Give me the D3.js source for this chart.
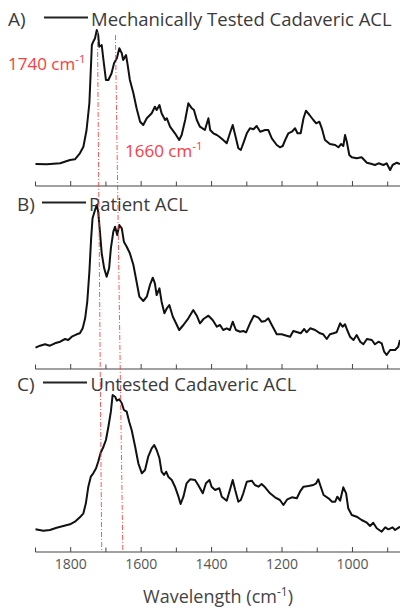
<!DOCTYPE html>
<html>
<head>
<meta charset="utf-8">
<script src="https://cdn.jsdelivr.net/npm/d3@7"></script>
<style>
  html, body { margin: 0; padding: 0; background: #fff; }
  svg { display: block; }
  text { font-family: "Open Sans", sans-serif; }
</style>
</head>
<body>
<svg id="chart" width="400" height="611"></svg>
<script>
// ---------- DATA (wavenumber cm^-1, intensity a.u.) ----------
const panelLetters = ["A)", "B)", "C)"];
const seriesNames = ["Mechanically Tested Cadaveric ACL", "Patient ACL", "Untested Cadaveric ACL"];
const tickValues = [1800, 1600, 1400, 1200, 1000];
const minorTickValues = [1900, 1800, 1700, 1600, 1500, 1400, 1300, 1200, 1100, 1000, 900];
const markerLabels = ["1740 cm", "1660 cm"];
// dashed guide lines: wavenumber at top and at bottom of the figure
const markerTop = [1724, 1673];
const markerBottom = [1712, 1652];

const spectrumA = [[1900,22],[1868,21.7],[1830,22.7],[1802,26],[1788,26.7],[1774,32.7],[1764,39.3],[1755,56],[1747,83],[1743,116],[1740,141],[1736,144.3],[1731,147.7],[1726,156],[1722,151],[1719,139.3],[1712,141],[1707,126],[1700,106],[1693,106],[1684,112.7],[1677,122.7],[1669,127.7],[1662,137.7],[1655,132.7],[1651,126],[1643,131],[1639,122.7],[1632,106],[1622,92.7],[1613,77.7],[1603,64.3],[1594,61],[1584,67.7],[1570,72.7],[1561,79.3],[1556,76],[1548,81],[1542,72.7],[1532,66],[1527,67.7],[1518,59.3],[1504,52.7],[1492,46],[1485,51],[1475,66],[1466,82.7],[1456,77.7],[1450,76],[1442,66],[1433,59.3],[1419,56],[1409,67.7],[1404,56],[1395,52.7],[1385,51],[1378,49.3],[1367,46],[1357,42.7],[1348,52.7],[1340,61],[1333,51],[1324,37.7],[1317,36],[1310,42.7],[1300,52.7],[1291,57.7],[1281,56.7],[1272,60],[1262,54.3],[1248,56],[1239,56],[1229,47.7],[1215,41],[1206,38.7],[1198,40],[1191,46],[1182,52.7],[1172,54.3],[1163,57.7],[1156,52.7],[1147,52.7],[1139,67.7],[1132,75.3],[1122,71],[1111,66],[1103,62.7],[1094,64.3],[1087,57.7],[1078,46],[1064,42],[1049,41],[1040,38.7],[1032,42],[1026,40],[1021,51],[1016,44.3],[1009,31],[1002,28.7],[988,27.7],[974,28.7],[959,23.3],[945,22],[936,21],[926,22.7],[912,21],[903,22.7],[893,16],[886,21],[874,23.3],[865,22]];

const spectrumB = [[1900,21.3],[1887,23.3],[1873,24.7],[1859,23.3],[1845,25.7],[1830,27.3],[1816,30],[1807,29],[1797,32.3],[1783,34.7],[1774,35.7],[1766,40.7],[1759,50.7],[1753,67.3],[1747,97.3],[1742,130.7],[1738,150.7],[1731,159],[1726,164],[1722,157.3],[1717,137.3],[1712,115.7],[1705,100.7],[1698,92.3],[1691,100.7],[1686,120.7],[1679,137.3],[1674,142.3],[1668,134],[1662,144],[1655,140.7],[1649,127.3],[1641,122.3],[1632,115.7],[1622,104],[1613,87.3],[1605,72.3],[1594,68],[1584,72.3],[1575,84],[1567,91.3],[1561,85.7],[1556,74],[1548,80.7],[1542,67.3],[1534,55.7],[1527,60.7],[1520,64],[1510,52.3],[1501,45.7],[1492,39],[1480,44],[1466,50.7],[1452,59],[1442,53.3],[1433,45.7],[1423,50],[1409,53.3],[1397,49],[1385,42.3],[1376,44],[1367,39],[1357,40.7],[1348,39],[1340,47.3],[1331,39],[1319,37.3],[1310,38],[1302,36.7],[1291,45.7],[1280,53.3],[1267,51.3],[1258,47.3],[1248,48],[1239,50.7],[1229,44],[1215,34.7],[1201,34.7],[1187,33.3],[1177,32.3],[1168,38],[1156,36.7],[1147,35.7],[1137,40],[1130,36.7],[1120,40.7],[1106,39],[1092,35.7],[1083,34.7],[1073,30],[1064,34.7],[1054,35.7],[1045,36.7],[1035,45.7],[1028,42.3],[1021,44.7],[1015,39],[1007,32.3],[997,29],[988,34],[978,27.3],[969,24.7],[959,30],[945,29],[936,24.7],[926,27.3],[917,25.7],[910,17.3],[903,14],[893,19],[879,19],[870,22.3],[865,29]];

const spectrumC = [[1900,22.7],[1878,21.3],[1859,22],[1840,24.3],[1821,26],[1802,27.7],[1788,30.3],[1774,34.7],[1764,38.7],[1757,48.7],[1750,65.3],[1743,75.3],[1736,78.7],[1728,83.7],[1722,90.3],[1715,99.3],[1707,105.3],[1700,112],[1693,125.3],[1686,140.3],[1681,157],[1674,155.3],[1669,151.3],[1662,152.7],[1655,148.7],[1649,142],[1641,140.3],[1634,130.3],[1627,122],[1617,105.3],[1608,88.7],[1598,78.7],[1589,82],[1580,95.3],[1570,103.7],[1563,107],[1556,102],[1548,93.7],[1542,80.3],[1535,77],[1529,80.3],[1523,75.3],[1513,72],[1504,65.3],[1494,55.3],[1488,48],[1480,55.3],[1471,68.7],[1461,72.7],[1447,72],[1438,67],[1425,58.7],[1416,68.7],[1406,72],[1400,65.3],[1390,62],[1378,63.7],[1371,55.3],[1357,51.3],[1348,62],[1340,72],[1333,62],[1324,50.3],[1317,52],[1310,58.7],[1300,70.3],[1286,71.3],[1277,67],[1267,65.3],[1258,68],[1248,64.7],[1234,58.7],[1220,54.7],[1206,52],[1196,47],[1185,52.7],[1172,54.7],[1158,53.7],[1149,60.3],[1139,65.3],[1125,66],[1111,67],[1103,68.7],[1097,72.7],[1090,65.3],[1082,57],[1068,53.7],[1058,50.3],[1049,50.3],[1043,55.3],[1035,51.3],[1026,64.7],[1018,58.7],[1012,43.7],[1002,37],[988,35.3],[974,32],[959,29.3],[950,26],[941,29.3],[931,23.7],[917,20.3],[907,24.7],[898,22.7],[886,24.7],[879,22],[865,25.3]];

const spectra = [spectrumA, spectrumB, spectrumC];

// ---------- LAYOUT ----------
const svg = d3.select("#chart");
const plotLeft = 35.5, plotRight = 400;
const axisYs = [186, 369, 552];
const panelHeight = 160;
const red = "#ff3b3b";

const x = d3.scaleLinear().domain([1900, 865]).range([plotLeft, plotRight]);

// legend rows
const legendY = [17.5, 202.5, 382.5];
const letterX = [8, 17, 17];
const legendLineX = [[44, 88], [42, 86], [43, 87]];
const legendTextX = [91, 89, 90.5];

spectra.forEach((data, i) => {
  const base = axisYs[i];
  const y = d3.scaleLinear().domain([0, panelHeight]).range([base, base - panelHeight]);

  // axis with upward ticks
  const g = svg.append("g").attr("transform", `translate(0,${base})`);
  g.append("line").attr("x1", plotLeft).attr("x2", plotRight)
    .attr("stroke", "#444").attr("stroke-width", 1.2);
  g.selectAll("line.tick").data(minorTickValues).enter().append("line")
    .attr("x1", d => x(d)).attr("x2", d => x(d))
    .attr("y1", 0).attr("y2", d => tickValues.includes(d) ? -5 : -4.5)
    .attr("stroke", "#444").attr("stroke-width", 1);

  if (i === 2) {
    g.selectAll("text.tl").data(tickValues).enter().append("text")
      .attr("x", d => x(d)).attr("y", 16.5)
      .attr("text-anchor", "middle").attr("font-size", 14).attr("fill", "#555")
      .text(d => d);
  }

  // spectrum line
  const line = d3.line().x(d => x(d[0])).y(d => y(d[1]));
  svg.append("path").datum(data).attr("d", line)
    .attr("fill", "none").attr("stroke", "#111").attr("stroke-width", 2)
    .attr("stroke-linejoin", "round");

  // legend
  svg.append("text").attr("x", letterX[i]).attr("y", legendY[i] + 8)
    .attr("font-size", 19).attr("fill", "#3a3a3a").text(panelLetters[i]);
  svg.append("line")
    .attr("x1", legendLineX[i][0]).attr("x2", legendLineX[i][1])
    .attr("y1", legendY[i]).attr("y2", legendY[i])
    .attr("stroke", "#222").attr("stroke-width", 1.8);
  svg.append("text").attr("x", legendTextX[i]).attr("y", legendY[i] + 8)
    .attr("font-size", 18.5).attr("fill", "#3a3a3a").text(seriesNames[i]);
});

// red dash-dot guide lines
const guideTopY = [32, 35], guideBottomY = [551, 552];
markerTop.forEach((w, i) => {
  svg.append("line")
    .attr("x1", x(w)).attr("y1", guideTopY[i])
    .attr("x2", x(markerBottom[i])).attr("y2", guideBottomY[i])
    .attr("stroke", red).attr("stroke-width", 1).attr("opacity", 0.85)
    .attr("stroke-dasharray", "5,2,1,2");
});

// red labels
const labelPos = [[8, 70], [125, 157]];
markerLabels.forEach((t, i) => {
  const tx = svg.append("text").attr("x", labelPos[i][0]).attr("y", labelPos[i][1])
    .attr("font-size", 17).attr("fill", red);
  tx.append("tspan").text(t);
  tx.append("tspan").attr("dy", -7).attr("font-size", 11.5).text("-1");
});

// x-axis title
const title = svg.append("text").attr("x", 218).attr("y", 603)
  .attr("text-anchor", "middle").attr("font-size", 18).attr("fill", "#444");
title.append("tspan").text("Wavelength (cm");
title.append("tspan").attr("dy", -7).attr("font-size", 12).text("-1");
title.append("tspan").attr("dy", 7).text(")");
</script>
</body>
</html>
